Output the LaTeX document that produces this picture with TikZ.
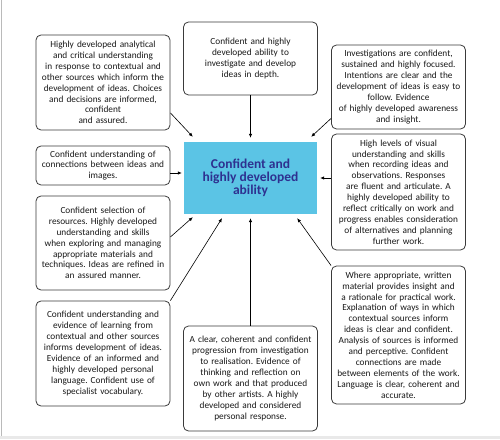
\documentclass[tikz,border=0pt]{standalone}
\usepackage{fontspec}
\setmainfont{Carlito}
\usepackage{tikz}
\usetikzlibrary{arrows.meta,positioning}
\frenchspacing
\definecolor{coreblue}{HTML}{5BC4E5}
\definecolor{corenavy}{HTML}{2E3190}
\definecolor{boxgray}{HTML}{3A3A3A}
\definecolor{pageedge}{HTML}{E9E9E9}
\tikzset{
  descbox/.style={draw=boxgray, line width=0.8pt, rounded corners=5pt, fill=white, text=black!90, align=center, text width=127pt, inner xsep=3.5pt, inner ysep=2pt, font=\fontsize{9.3}{10.9}\selectfont},
  corebox/.style={fill=coreblue, text=corenavy, align=center, minimum width=133pt, minimum height=72pt, inner sep=2pt, font=\fontsize{13.5}{12.7}\selectfont\bfseries},
  linkarrow/.style={black, line width=0.6pt, -{Latex[length=4pt,width=3.4pt]}}
}

\begin{document}
\begin{tikzpicture}[x=1pt, y=1pt]
  \useasboundingbox (0,0) rectangle (500,439);
  \fill[pageedge] (0,0) rectangle (500,3);
  \draw[pageedge!80!black, line width=0.8pt] (1.5,3) -- (1.5,439);
  \node[corebox] (core) at (250.5,261) {Confident and\\highly developed\\ability};
  % left column
  \node[descbox, minimum height=95pt] (analysis) at (103,356.5) {Highly developed analytical\\and critical understanding\\in response to contextual and\\other sources which inform the\\development of ideas. Choices\\and decisions are informed,\\confident\\and assured.};
  \node[descbox, minimum height=39pt] (connect) at (103,273.5) {Confident understanding of\\connections between ideas and\\images.};
  \node[descbox, minimum height=94pt] (resource) at (103,196) {Confident selection of\\resources. Highly developed\\understanding and skills\\when exploring and managing\\appropriate materials and\\techniques. Ideas are refined in\\an assured manner.};
  \node[descbox, minimum height=105pt] (context) at (103,85.5) {Confident understanding and\\evidence of learning from\\contextual and other sources\\informs development of ideas.\\Evidence of an informed and\\highly developed personal\\language. Confident use of\\specialist vocabulary.};
  % middle column
  \node[descbox, minimum height=73pt] (investigate) at (250.5,380.5) {Confident and highly\\developed ability to\\investigate and develop\\ideas in depth.};
  \node[descbox, minimum height=105pt] (progress) at (250.5,60.5) {A clear, coherent and confident\\progression from investigation\\to realisation. Evidence of\\thinking and reflection on\\own work and that produced\\by other artists. A highly\\developed and considered\\personal response.};
  % right column
  \node[descbox, minimum height=84pt] (focus) at (398.5,352) {Investigations are confident,\\sustained and highly focused.\\Intentions are clear and the\\development of ideas is easy to\\follow. Evidence\\of highly developed awareness\\and insight.};
  \node[descbox, minimum height=116pt] (visual) at (398.5,247) {High levels of visual\\understanding and skills\\when recording ideas and\\observations. Responses\\are fluent and articulate. A\\highly developed ability to\\reflect critically on work and\\progress enables consideration\\of alternatives and planning\\further work.};
  \node[descbox, minimum height=138pt] (written) at (398.5,104) {Where appropriate, written\\material provides insight and\\a rationale for practical work.\\Explanation of ways in which\\contextual sources inform\\ideas is clear and confident.\\Analysis of sources is informed\\and perceptive. Confident\\connections are made\\between elements of the work.\\Language is clear, coherent and\\accurate.};
  % arrows into the centre
  \draw[linkarrow] ([yshift=17.5pt]analysis.south east) -- ([xshift=9pt,yshift=5pt]core.north west);
  \draw[linkarrow, shorten >=4pt] (investigate.south) -- (core.north);
  \draw[linkarrow] ([yshift=11pt]focus.south west) -- ([xshift=-6pt,yshift=5pt]core.north east);
  \draw[linkarrow] ([yshift=-7.5pt]connect.east) -- ([xshift=-2pt,yshift=5pt]core.west);
  \draw[linkarrow] ([yshift=14pt]visual.west) -- ([xshift=3pt]core.east);
  \draw[linkarrow] ([yshift=6pt]resource.east) -- ([xshift=9pt,yshift=-3pt]core.south west);
  \draw[linkarrow] (context.north east) -- ([xshift=-28.5pt,yshift=-4pt]core.south);
  \draw[linkarrow, shorten >=4pt] (progress.north) -- (core.south);
  \draw[linkarrow] (written.north west) -- ([xshift=-20pt,yshift=-4pt]core.south east);
\end{tikzpicture}
\end{document}
